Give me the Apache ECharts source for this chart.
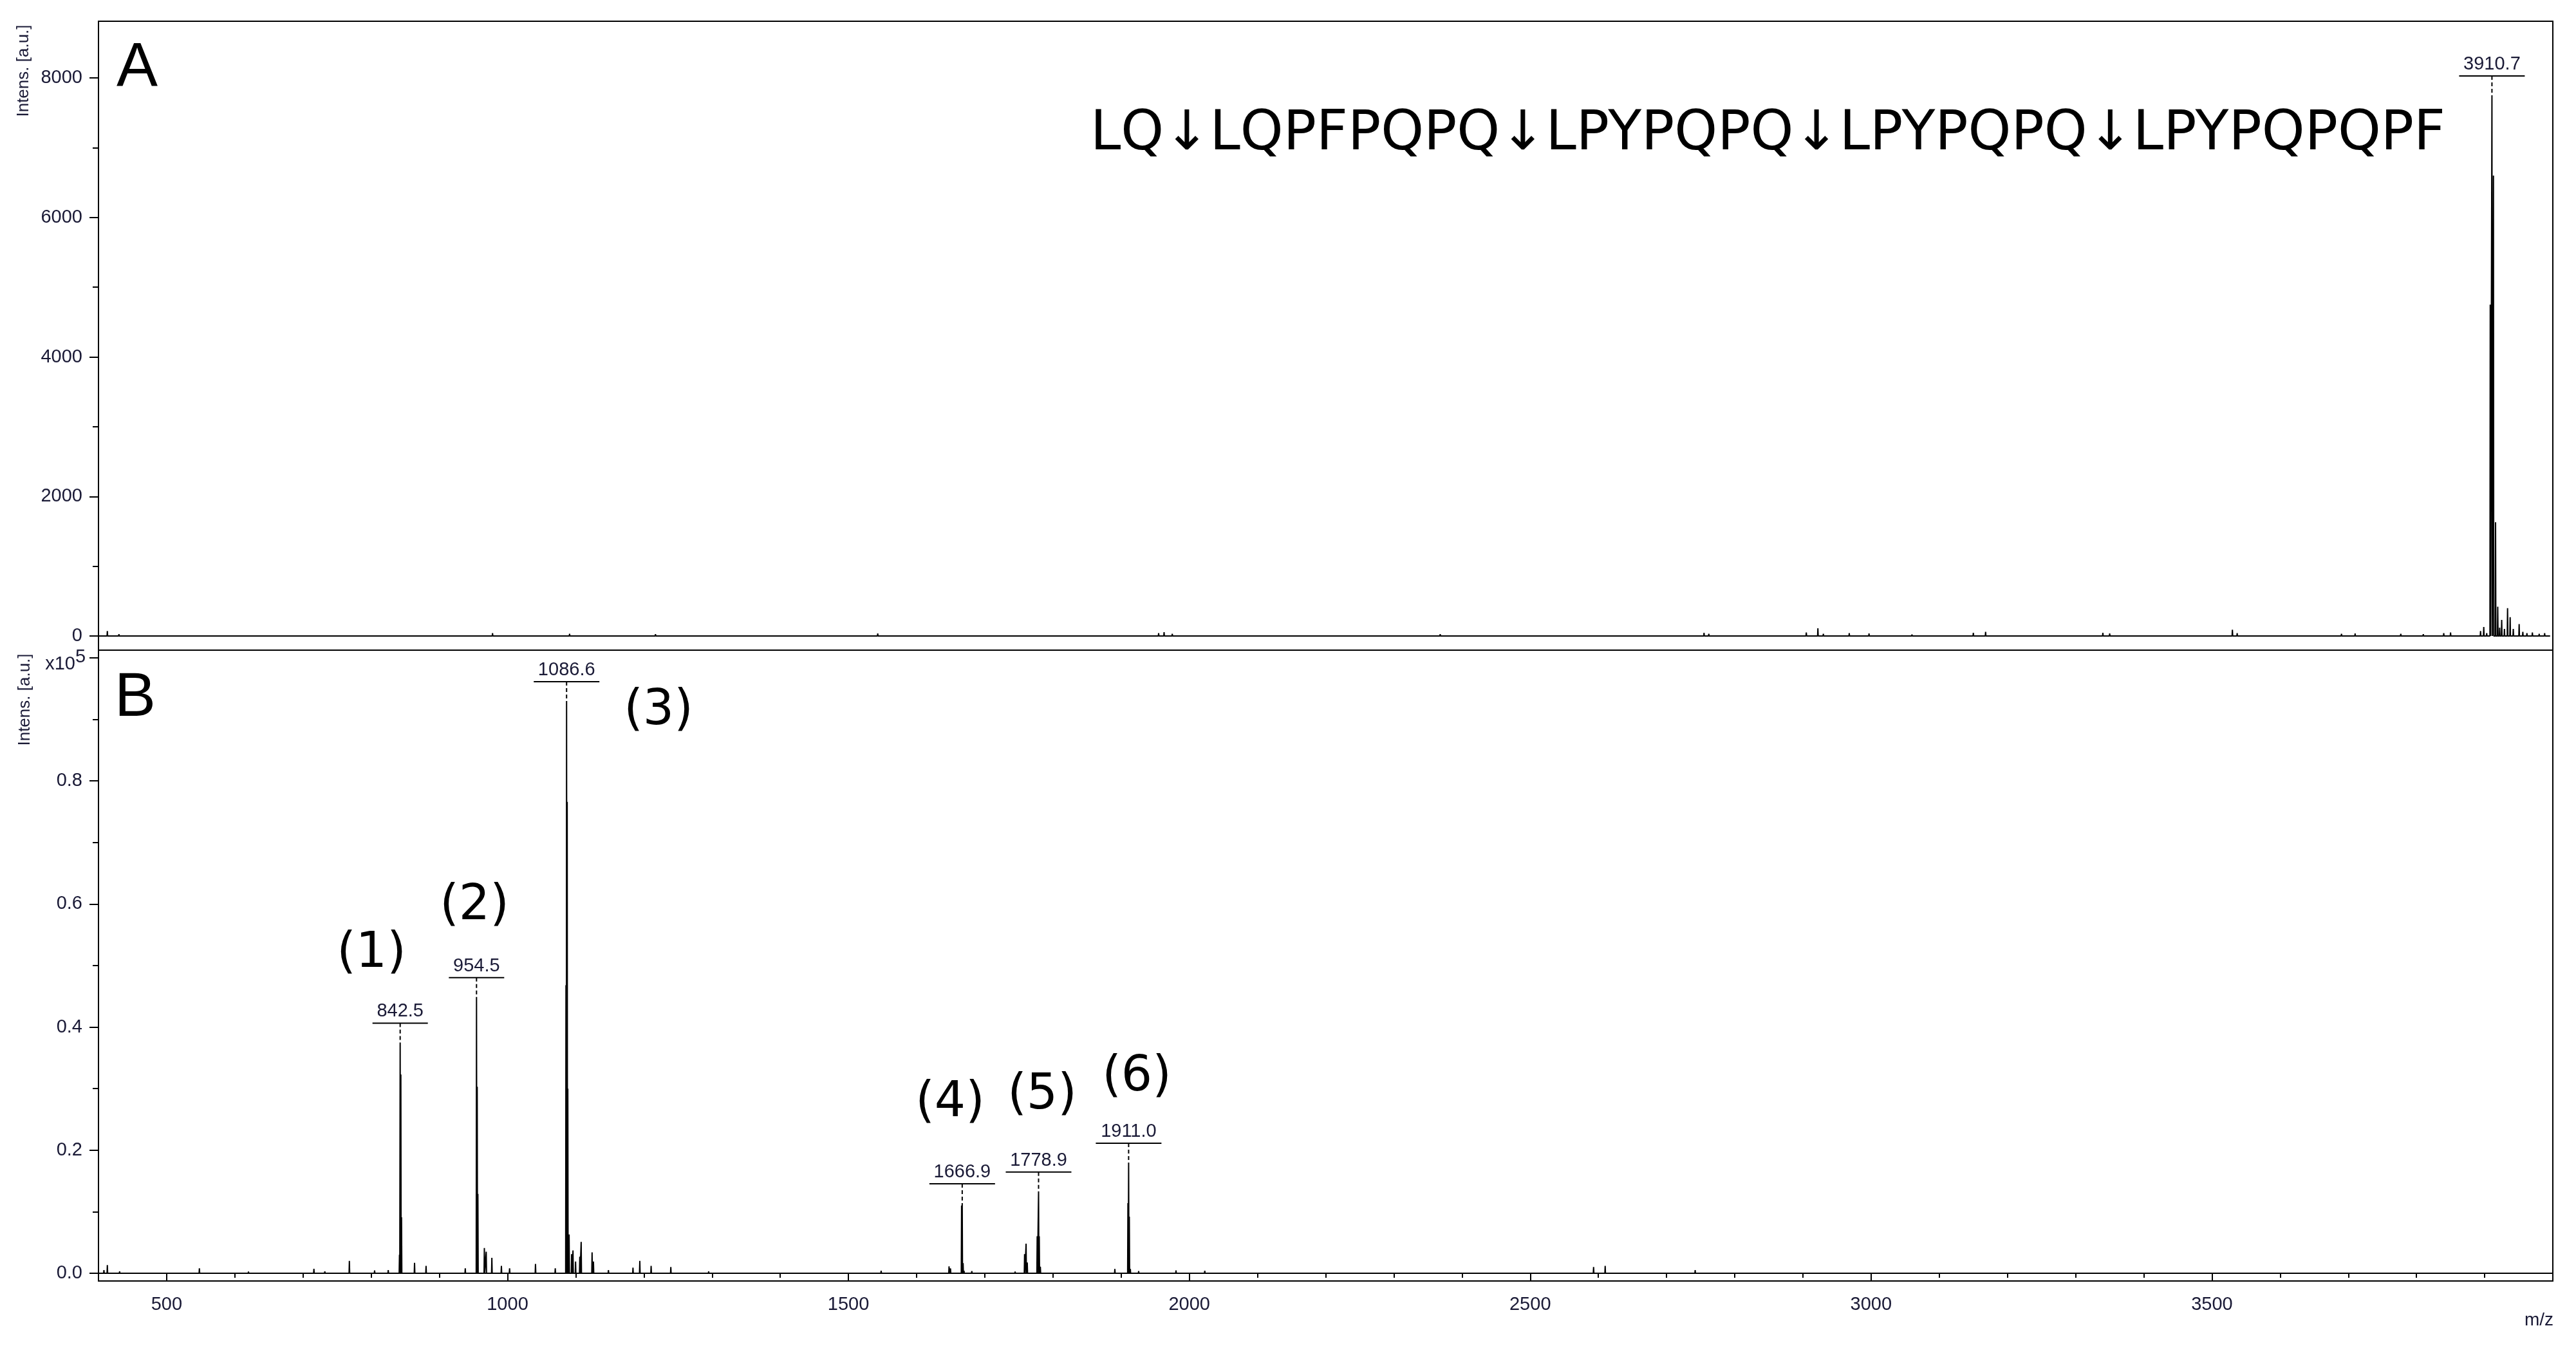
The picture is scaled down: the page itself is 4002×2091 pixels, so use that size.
<!DOCTYPE html>
<html>
<head>
<meta charset="utf-8">
<script src="https://cdn.jsdelivr.net/npm/echarts@6/dist/echarts.min.js"></script>
<style>
  html, body { margin: 0; padding: 0; background: #fff; }
  #main { width: 4002px; height: 2091px; }
</style>
</head>
<body>
<div id="main"></div>
<script>
// ---- data (m/z, intensity in a.u.) ----
// panel A
const mzA = [413, 430, 978, 1091, 1217, 1543, 1955, 1963, 1975, 2368, 2755, 2762, 2905, 2922, 2930, 2968, 2997, 3060,
  3150, 3168, 3340, 3350, 3530, 3537, 3690, 3710, 3777, 3810, 3840, 3850, 3894, 3898.7, 3903,
  3908.2, 3910.7, 3912.9, 3916.0, 3919.2, 3922, 3925, 3929, 3933.6, 3937.4, 3942, 3950.6, 3956, 3962, 3970, 3980, 3988];
const intensA = [70, 25, 40, 30, 25, 35, 40, 55, 30, 25, 45, 30, 50, 110, 30, 40, 35, 20,
  45, 60, 45, 35, 90, 40, 30, 35, 30, 25, 40, 50, 70, 130, 40,
  4750, 7750, 6600, 1630, 420, 120, 230, 100, 400, 270, 100, 170, 60, 40, 50, 30, 40];

// panel B
const mzB = [408, 413, 431, 475, 490, 548, 603, 620, 659, 716, 732, 768, 805, 825,
  841.5, 842.5, 843.5, 844.5, 863.6, 880.5, 938, 954.5, 955.5, 956.5, 966, 968.7, 977, 991, 1003, 1041, 1070,
  1085.7, 1086.6, 1087.5, 1088.4, 1090.3, 1094, 1096, 1099.8, 1106, 1108, 1124, 1126, 1148, 1184, 1194, 1210.6, 1239.5,
  1295, 1380, 1420, 1548, 1588.6, 1647.6, 1649.7, 1666.0, 1666.9, 1668.2, 1669.5, 1681, 1744.5,
  1758.4, 1760.6, 1762.3, 1776.9, 1778.9, 1779.9, 1781.5, 1812, 1890.8, 1910.0, 1911.0, 1912.0, 1913.5, 1925.7,
  1980.5, 2022.7, 2151, 2593, 2610, 2742];
const intensB = [500, 1330, 300, 200, 200, 800, 200, 250, 200, 730, 300, 2000, 450, 500,
  3000, 37500, 32300, 9100, 1700, 1200, 800, 44900, 30300, 12900, 4100, 3500, 2500, 1200, 800, 1500, 800,
  46800, 93000, 76600, 30000, 6300, 3100, 3700, 1900, 2700, 5100, 3400, 1900, 500, 900, 2000, 1200, 1000,
  300, 200, 200, 400, 200, 1120, 770, 11000, 11400, 1640, 400, 350, 250,
  3100, 4800, 1750, 6000, 13300, 6000, 1050, 200, 700, 11400, 18000, 9200, 700, 350,
  450, 400, 200, 1000, 1200, 500];

// labelled peaks
const peakMzA = [3910.7];
const peakTopA = [7750];
const peakLabelsA = ['3910.7'];
const peakMzB = [842.5, 954.5, 1086.6, 1666.9, 1778.9, 1911.0];
const peakTopB = [37500, 44900, 93000, 11400, 13300, 18000];
const peakLabelsB = ['842.5', '954.5', '1086.6', '1666.9', '1778.9', '1911.0'];

// axes
const xTickLabels = [500, 1000, 1500, 2000, 2500, 3000, 3500];
const xMajorTicks = [500, 1000, 1500, 2000, 2500, 3000, 3500, 4000];
const yTicksA = [0, 2000, 4000, 6000, 8000];
const yMinorA = [1000, 3000, 5000, 7000];
const yTicksB = [0, 20000, 40000, 60000, 80000, 100000];
const yLabelsB = [0, 20000, 40000, 60000, 80000];
const yMinorB = [10000, 30000, 50000, 70000, 90000];

const xMinorTicks = [];
for (let v = 400; v <= 4000; v += 100) xMinorTicks.push(v);

// stick spectrum: each point rises from the baseline and falls back
const buildTrace = (mz, inten) => {
  const pts = [[400, 0]];
  mz.forEach((m, i) => {
    pts.push([m - 0.45, 0], [m, inten[i]], [m + 0.45, 0]);
  });
  pts.push([3996, 0]);
  return pts;
};

const labelColor = '#1a1a36';
const tickFont = { fontSize: 29, fontFamily: 'Liberation Sans', color: labelColor };
const plain = (v) => String(v);

// peak annotation: value, underline and dashed drop line
const annotation = (labels) => (params, api) => {
  const p = api.coord([api.value(0), api.value(1)]);
  const text = labels[params.dataIndex];
  const half = text.length * 8 + 3;
  return {
    type: 'group',
    children: [
      { type: 'text', style: { x: p[0], y: p[1] - 48, text, fontSize: 29, fontFamily: 'Liberation Sans',
          fill: labelColor, align: 'center', verticalAlign: 'middle' } },
      { type: 'line', shape: { x1: p[0] - half, y1: p[1] - 30, x2: p[0] + half, y2: p[1] - 30 },
        style: { stroke: '#000', lineWidth: 2 } },
      { type: 'line', shape: { x1: p[0], y1: p[1] - 30, x2: p[0], y2: p[1] },
        style: { stroke: '#000', lineWidth: 2, lineDash: [6, 4] } },
    ],
  };
};

const hiddenAxis = { axisLine: { show: false }, axisLabel: { show: false }, splitLine: { show: false } };

const chart = echarts.init(document.getElementById('main'));
const option = {
  animation: false,
  backgroundColor: '#fff',
  grid: [
    { left: 153, right: 36, top: 33, height: 977, show: true, borderColor: '#000', borderWidth: 2 },
    { left: 153, right: 36, top: 1010, height: 980, show: true, borderColor: '#000', borderWidth: 2 },
  ],
  xAxis: [
    { gridIndex: 0, type: 'value', min: 400, max: 4000, ...hiddenAxis, axisTick: { show: false } },
    {
      gridIndex: 1, type: 'value', min: 400, max: 4000, position: 'bottom',
      axisLine: { show: true, lineStyle: { color: '#000', width: 2 } },
      axisTick: { customValues: xMajorTicks, length: 12, lineStyle: { color: '#000', width: 2 } },
      axisLabel: { customValues: xTickLabels, margin: 22, ...tickFont, formatter: plain },
      splitLine: { show: false },
    },
    {
      gridIndex: 1, type: 'value', min: 400, max: 4000, position: 'bottom', ...hiddenAxis,
      axisTick: { customValues: xMinorTicks, length: 7, lineStyle: { color: '#000', width: 2 } },
    },
  ],
  yAxis: [
    {
      gridIndex: 0, type: 'value', min: -203, max: 8812, position: 'left',
      axisLine: { show: false },
      axisTick: { customValues: yTicksA, length: 14, lineStyle: { color: '#000', width: 2 } },
      axisLabel: { customValues: yTicksA, margin: 25, ...tickFont, formatter: plain },
      splitLine: { show: false },
    },
    {
      gridIndex: 0, type: 'value', min: -203, max: 8812, position: 'left', ...hiddenAxis,
      axisTick: { customValues: yMinorA, length: 9, lineStyle: { color: '#000', width: 2 } },
    },
    {
      gridIndex: 1, type: 'value', min: -1260, max: 101260, position: 'left',
      axisLine: { show: false },
      axisTick: { customValues: yTicksB, length: 14, lineStyle: { color: '#000', width: 2 } },
      axisLabel: { customValues: yLabelsB, margin: 25, ...tickFont, formatter: (v) => (v / 1e5).toFixed(1) },
      splitLine: { show: false },
    },
    {
      gridIndex: 1, type: 'value', min: -1260, max: 101260, position: 'left', ...hiddenAxis,
      axisTick: { customValues: yMinorB, length: 9, lineStyle: { color: '#000', width: 2 } },
    },
  ],
  series: [
    {
      type: 'line', xAxisIndex: 0, yAxisIndex: 0, data: buildTrace(mzA, intensA),
      showSymbol: false, lineStyle: { color: '#000', width: 2 },
    },
    {
      type: 'line', xAxisIndex: 1, yAxisIndex: 2, data: buildTrace(mzB, intensB),
      showSymbol: false, lineStyle: { color: '#000', width: 2 },
    },
    {
      type: 'custom', xAxisIndex: 0, yAxisIndex: 0, clip: false,
      data: peakMzA.map((m, i) => [m, peakTopA[i]]), renderItem: annotation(peakLabelsA),
    },
    {
      type: 'custom', xAxisIndex: 1, yAxisIndex: 2, clip: false,
      data: peakMzB.map((m, i) => [m, peakTopB[i]]), renderItem: annotation(peakLabelsB),
    },
  ],
  graphic: [
    // panel letters
    { type: 'text', style: { x: 181, y: 107, text: 'A', fontSize: 96, fontFamily: 'Liberation Sans', fill: '#000', verticalAlign: 'middle' } },
    { type: 'text', style: { x: 178, y: 1086, text: 'B', fontSize: 96, fontFamily: 'Liberation Sans', fill: '#000', verticalAlign: 'middle' } },
    // cleavage sites
    { type: 'text', style: { x: 1694, y: 210, text: 'LQ↓LQPFPQPQ↓LPYPQPQ↓LPYPQPQ↓LPYPQPQPF',
        fontSize: 85, fontFamily: 'DejaVu Sans', fill: '#000', verticalAlign: 'middle' } },
    // fragment numbers
    ...[['(1)', 577, 1482], ['(2)', 737, 1408], ['(3)', 1023, 1105], ['(4)', 1476, 1714], ['(5)', 1619, 1702], ['(6)', 1766, 1674]]
      .map(([t, x, y]) => ({ type: 'text', style: { x, y, text: t, fontSize: 76, fontFamily: 'DejaVu Sans',
        fill: '#000', align: 'center', verticalAlign: 'middle' } })),
    // axis names
    { type: 'text', x: 37, y: 110, rotation: Math.PI / 2, style: { text: 'Intens. [a.u.]', fontSize: 26,
        fontFamily: 'Liberation Sans', fill: labelColor, align: 'center', verticalAlign: 'middle' } },
    { type: 'text', x: 39, y: 1087, rotation: Math.PI / 2, style: { text: 'Intens. [a.u.]', fontSize: 26,
        fontFamily: 'Liberation Sans', fill: labelColor, align: 'center', verticalAlign: 'middle' } },
    { type: 'text', style: { x: 117, y: 1032, text: 'x10', fontSize: 29, fontFamily: 'Liberation Sans', fill: labelColor, align: 'right', verticalAlign: 'middle' } },
    { type: 'text', style: { x: 117, y: 1021, text: '5', fontSize: 29, fontFamily: 'Liberation Sans', fill: labelColor, verticalAlign: 'middle' } },
    { type: 'text', style: { x: 3967, y: 2051, text: 'm/z', fontSize: 28, fontFamily: 'Liberation Sans', fill: labelColor, align: 'right', verticalAlign: 'middle' } },
  ],
};

chart.setOption(option);
</script>
</body>
</html>
